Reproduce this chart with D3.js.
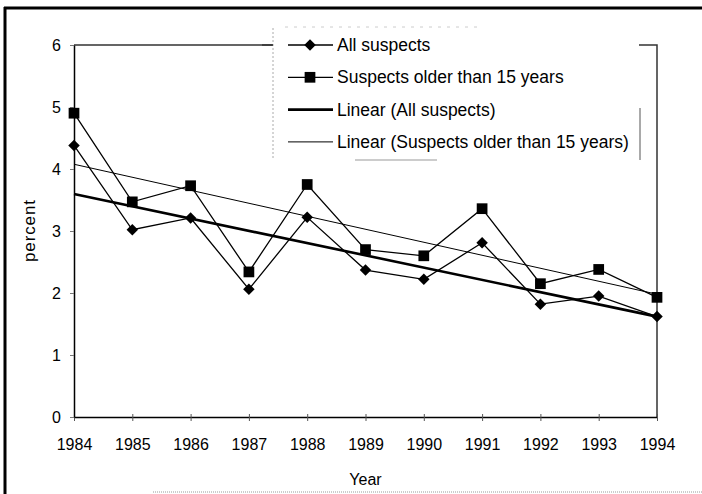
<!DOCTYPE html>
<html>
<head>
<meta charset="utf-8">
<script src="https://cdnjs.cloudflare.com/ajax/libs/d3/7.8.5/d3.min.js"></script>
<style>
	body { margin: 0; background: #fff; }
	svg { display: block; font-family: "Liberation Sans", Arial, sans-serif; }
</style>
</head>
<body>
<svg id="chart" width="702" height="494"></svg>
<script>
var years = [1984, 1985, 1986, 1987, 1988, 1989, 1990, 1991, 1992, 1993, 1994];
var allSuspects = [4.38, 3.02, 3.21, 2.06, 3.22, 2.37, 2.22, 2.81, 1.82, 1.95, 1.62];
var olderSuspects = [4.90, 3.47, 3.73, 2.34, 3.75, 2.70, 2.60, 3.36, 2.15, 2.38, 1.93];
var yTicks = [0, 1, 2, 3, 4, 5, 6];
var legendLabels = ["All suspects", "Suspects older than 15 years",
	"Linear (All suspects)", "Linear (Suspects older than 15 years)"];

var svg = d3.select("#chart"),
	plotLeft = 74, plotRight = 657, plotTop = 45, plotBottom = 417;

var x = d3.scaleLinear().domain([1984, 1994]).range([plotLeft, plotRight]);
var y = d3.scaleLinear().domain([0, 6]).range([plotBottom, plotTop]);

// least squares trend, same as Excel's "Linear" trendline
var trend = function(xs, ys) {
	var mx = d3.mean(xs), my = d3.mean(ys), sxy = 0, sxx = 0;
	for (var i = 0; i < xs.length; i++) {
		sxy += (xs[i] - mx) * (ys[i] - my);
		sxx += (xs[i] - mx) * (xs[i] - mx);
	}
	var b = sxy / sxx, a = my - b * mx;
	return [xs[0], xs[xs.length - 1]].map(function(v) { return [v, a + b * v]; });
};

// markers: excel style diamond is a square turned 45 degrees
var markers = {
	diamond: {path: d3.symbol().type(d3.symbolSquare).size(66)(), rotate: 45},
	square: {path: d3.symbol().type(d3.symbolSquare).size(115)(), rotate: 0}
};

// outer frame (scanned look)
svg.append("line").attr("x1", 4).attr("x2", 702).attr("y1", 8).attr("y2", 8)
	.attr("stroke", "#000").attr("stroke-width", 3);
svg.append("line").attr("x1", 5).attr("x2", 5).attr("y1", 7).attr("y2", 494)
	.attr("stroke", "#000").attr("stroke-width", 3);
svg.append("line").attr("x1", 153).attr("x2", 702).attr("y1", 492).attr("y2", 492)
	.attr("stroke", "#999").attr("stroke-dasharray", "1,1");

// plot area frame
svg.append("path")
	.attr("d", "M" + plotLeft + "," + plotTop + "H" + plotRight + "V" + plotBottom)
	.attr("fill", "none").attr("stroke", "#333").attr("stroke-width", 1.5);

// axes
var xAxis = d3.axisBottom(x).tickValues(years).tickFormat(d3.format("d"))
	.tickSizeInner(4).tickSizeOuter(0).tickPadding(18);
var gx = svg.append("g").attr("transform", "translate(0," + plotBottom + ")").call(xAxis);
gx.selectAll(".tick line").attr("y1", -3).attr("stroke", "#555");

var yAxis = d3.axisLeft(y).tickValues(yTicks).tickFormat(d3.format("d"))
	.tickSizeInner(4).tickSizeOuter(0).tickPadding(9);
var gy = svg.append("g").attr("transform", "translate(" + plotLeft + ",0)").call(yAxis);

[gx, gy].forEach(function(g) {
	g.select(".domain").attr("stroke", "#000").attr("stroke-width", 1.5);
	g.selectAll("text").attr("font-size", 16).attr("fill", "#000")
		.attr("font-family", "'Liberation Sans', Arial, sans-serif");
});
gy.selectAll(".tick line").attr("stroke", "#777");

svg.append("text").attr("x", (plotLeft + plotRight) / 2).attr("y", 485)
	.attr("text-anchor", "middle").attr("font-size", 16).text("Year");
svg.append("text")
	.attr("transform", "translate(35," + 231 + ") rotate(-90)")
	.attr("text-anchor", "middle").attr("font-size", 17)
	.attr("textLength", 62).attr("lengthAdjust", "spacing").text("percent");

// trendlines
var line = d3.line().x(function(d) { return x(d[0]); }).y(function(d) { return y(d[1]); });

svg.append("path").datum(trend(years, olderSuspects)).attr("d", line)
	.attr("fill", "none").attr("stroke", "#000").attr("stroke-width", 1);
svg.append("path").datum(trend(years, allSuspects)).attr("d", line)
	.attr("fill", "none").attr("stroke", "#000").attr("stroke-width", 2.6);

// data series
var series = [
	{values: allSuspects, marker: markers.diamond},
	{values: olderSuspects, marker: markers.square}
];

series.forEach(function(s) {
	var pts = years.map(function(yr, i) { return [yr, s.values[i]]; });
	svg.append("path").datum(pts).attr("d", line)
		.attr("fill", "none").attr("stroke", "#000").attr("stroke-width", 1.3);
	svg.selectAll(null).data(pts).enter()
		.append("path")
		.attr("transform", function(d) {
			return "translate(" + x(d[0]) + "," + y(d[1]) + ") rotate(" + s.marker.rotate + ")";
		})
		.attr("d", s.marker.path)
		.attr("fill", "#000");
});

// legend
var legend = svg.append("g");
legend.append("rect").attr("x", 273).attr("y", 27).attr("width", 366).attr("height", 133)
	.attr("fill", "#fff");
legend.append("line").attr("x1", 273).attr("x2", 273).attr("y1", 28).attr("y2", 160)
	.attr("stroke", "#aaa").attr("stroke-dasharray", "2,2");
legend.append("line").attr("x1", 640).attr("x2", 640).attr("y1", 108).attr("y2", 160)
	.attr("stroke", "#555");
legend.append("line").attr("x1", 285).attr("x2", 480).attr("y1", 27).attr("y2", 27)
	.attr("stroke", "#ccc").attr("stroke-dasharray", "3,6");
legend.append("line").attr("x1", 355).attr("x2", 437).attr("y1", 160).attr("y2", 160)
	.attr("stroke", "#999");
legend.append("line").attr("x1", 262).attr("x2", 273).attr("y1", 45).attr("y2", 45)
	.attr("stroke", "#333").attr("stroke-width", 1.5);

var legendItems = [
	{marker: markers.diamond, width: 1.3},
	{marker: markers.square, width: 1.3},
	{marker: null, width: 2.6},
	{marker: null, width: 1}
];

var rows = legend.selectAll("g.item").data(legendLabels).enter()
	.append("g").attr("class", "item")
	.attr("transform", function(d, i) { return "translate(0," + (45 + i * 32.3) + ")"; });

rows.append("line").attr("x1", 288).attr("x2", 333).attr("y1", 0).attr("y2", 0)
	.attr("stroke", "#000")
	.attr("stroke-width", function(d, i) { return legendItems[i].width; });
rows.each(function(d, i) {
	var m = legendItems[i].marker;
	if (!m) return;
	d3.select(this).append("path")
		.attr("transform", "translate(310,0) rotate(" + m.rotate + ")")
		.attr("d", m.path)
		.attr("fill", "#000");
});
rows.append("text").attr("x", 337).attr("y", 6).attr("font-size", 17.5)
	.text(function(d) { return d; });
</script>
</body>
</html>
